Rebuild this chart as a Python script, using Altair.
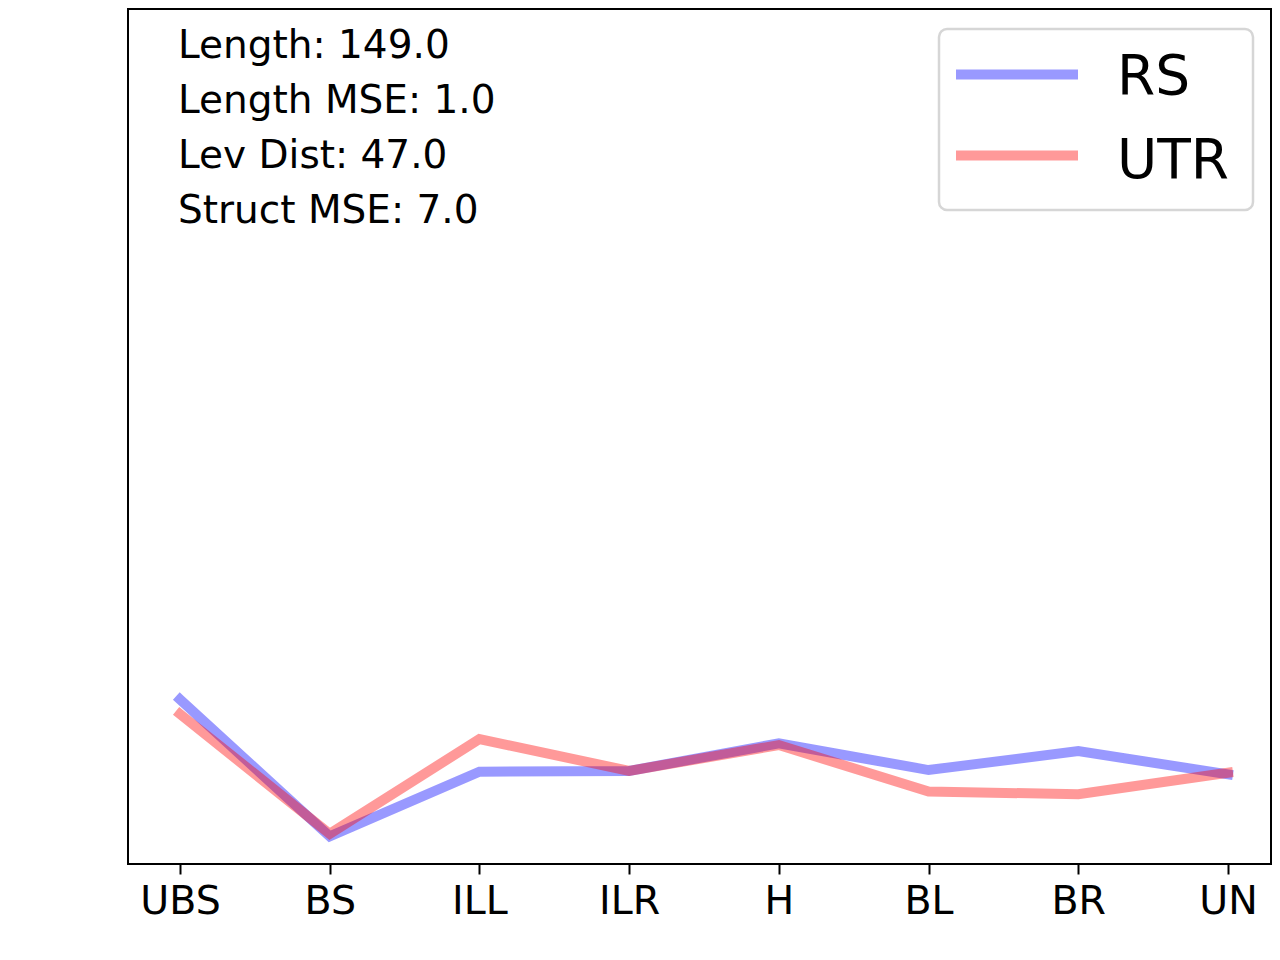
import altair as alt
import pandas as pd

categories = ["UBS", "BS", "ILL", "ILR", "H", "BL", "BR", "UN"]
rs_values = [19.1, 3.2, 10.7, 10.8, 14.0, 10.9, 13.1, 10.4]
utr_values = [17.4, 3.5, 14.5, 10.8, 13.8, 8.4, 8.1, 10.6]
series_names = ["RS", "UTR"]
series_colors = ["#0000ff", "#ff0000"]
annotation_lines = ["Length: 149.0", "Length MSE: 1.0", "Lev Dist: 47.0", "Struct MSE: 7.0"]

rows = []
for name, vals in zip(series_names, [rs_values, utr_values]):
    for i, (c, v) in enumerate(zip(categories, vals)):
        rows.append({"category": c, "value": v, "series": name, "idx": i})
df = pd.DataFrame(rows)
one = pd.DataFrame({"k": [0]})

W, H = 1143, 855
FONT = "DejaVu Sans"

lines = alt.Chart(df).mark_line(
    strokeWidth=10, opacity=0.4, strokeCap="square", strokeJoin="miter"
).encode(
    x=alt.X(
        "category:N",
        sort=categories,
        scale=alt.Scale(type="point", padding=0, range=[52, 1100]),
        axis=alt.Axis(
            title=None, labelAngle=0, labelFontSize=39.5, labelFont=FONT,
            labelColor="black", tickSize=10, tickWidth=2, tickColor="black",
            labelPadding=8, domain=False, grid=False,
        ),
    ),
    y=alt.Y("value:Q", scale=alt.Scale(domain=[0, 99.2], nice=False, zero=False), axis=None),
    color=alt.Color("series:N", scale=alt.Scale(domain=series_names, range=series_colors), legend=None),
    detail="series:N",
    order=alt.Order("idx:Q"),
)

annot = alt.Chart(one).mark_text(
    align="left", baseline="alphabetic", fontSize=39, font=FONT, color="black", lineHeight=55
).encode(x=alt.value(50), y=alt.value(48.7), text=alt.value(annotation_lines))

legend_box = alt.Chart(one).mark_rect(
    fill="white", stroke="#d6d6d6", strokeWidth=2.5, cornerRadius=8
).encode(x=alt.value(811), x2=alt.value(1125), y=alt.value(20), y2=alt.value(201))

legend_layers = [legend_box]
sym_y = [65.5, 146.5]
txt_y = [85, 169]
for i, (name, col) in enumerate(zip(series_names, series_colors)):
    legend_layers.append(
        alt.Chart(one).mark_rule(strokeWidth=10, color=col, opacity=0.4, strokeCap="butt").encode(
            x=alt.value(828), x2=alt.value(950), y=alt.value(sym_y[i])
        )
    )
    legend_layers.append(
        alt.Chart(one).mark_text(
            align="left", baseline="alphabetic", fontSize=55, font=FONT, color="black"
        ).encode(x=alt.value(989), y=alt.value(txt_y[i]), text=alt.value(name))
    )

chart = alt.layer(lines, annot, *legend_layers).properties(
    width=W,
    height=H,
    autosize="none",
    padding={"left": 120, "top": 1, "right": 1, "bottom": 70},
    background="white",
).configure_view(stroke="black", strokeWidth=2)

chart.save("out.html", embed_options={"renderer": "svg", "actions": False})
